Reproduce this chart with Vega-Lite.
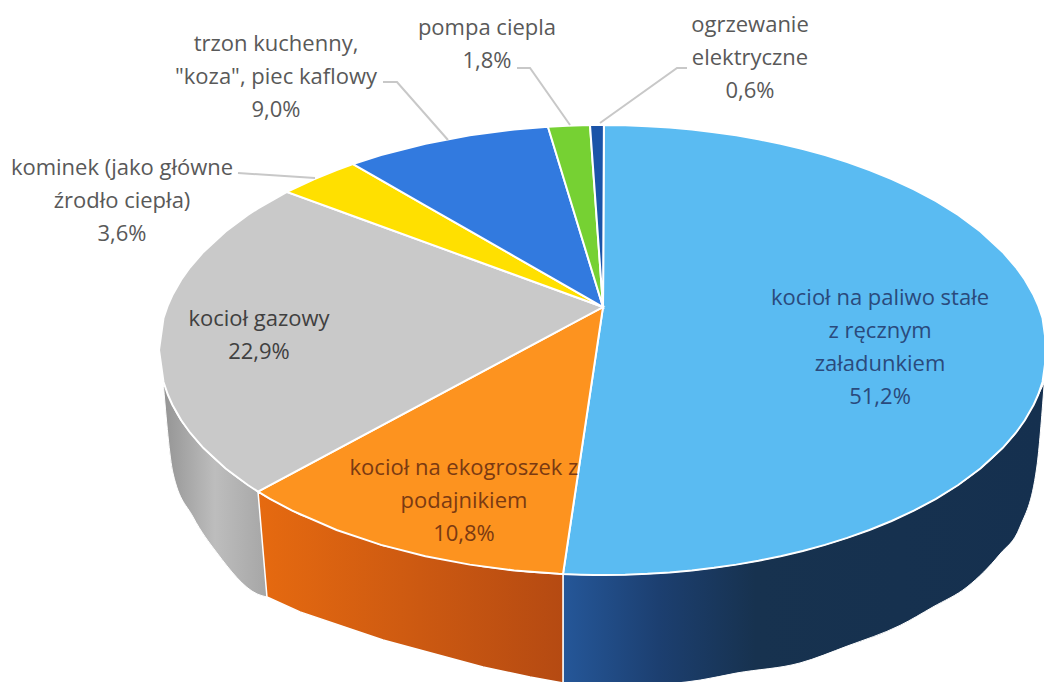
{"$schema":"https://vega.github.io/schema/vega-lite/v6.json","width":1044,"height":682,"padding":0,"autosize":"none","background":"white","view":{"stroke":null},
"datasets":{
"outline":[
{"part":"wall_gray","u":-0.991,"v":-0.134,"v2":-0.134},{"part":"wall_gray","u":-0.9685,"v":-0.249,"v2":-0.547},{"part":"wall_gray","u":-0.9234,"v":-0.3838,"v2":-0.742},{"part":"wall_gray","u":-0.8694,"v":-0.4941,"v2":-0.902},{"part":"wall_gray","u":-0.7793,"v":-0.6267,"v2":-1.084},{"part":"wall_gray","u":-0.7568,"v":-0.6537,"v2":-1.098},
{"part":"wall_blue","u":-0.0901,"v":-0.996,"v2":-1.48},{"part":"wall_blue","u":0,"v":-1,"v2":-1.493},{"part":"wall_blue","u":0.1,"v":-0.995,"v2":-1.489},{"part":"wall_blue","u":0.219,"v":-0.9757,"v2":-1.467},{"part":"wall_blue","u":0.3,"v":-0.9539,"v2":-1.436},{"part":"wall_blue","u":0.4437,"v":-0.896,"v2":-1.391},{"part":"wall_blue","u":0.55,"v":-0.8352,"v2":-1.316},{"part":"wall_blue","u":0.669,"v":-0.743,"v2":-1.224},{"part":"wall_blue","u":0.7432,"v":-0.669,"v2":-1.142},{"part":"wall_blue","u":0.82,"v":-0.5724,"v2":-1.053},{"part":"wall_blue","u":0.894,"v":-0.448,"v2":-0.907},{"part":"wall_blue","u":0.939,"v":-0.344,"v2":-0.787},{"part":"wall_blue","u":0.977,"v":-0.213,"v2":-0.52},{"part":"wall_blue","u":0.9932,"v":-0.147,"v2":-0.16},
{"part":"wall_orange","u":-0.777,"v":-0.6295,"v2":-0.6295},{"part":"wall_orange","u":-0.7568,"v":-0.6537,"v2":-1.098},{"part":"wall_orange","u":-0.6824,"v":-0.731,"v2":-1.164},{"part":"wall_orange","u":-0.4955,"v":-0.8686,"v2":-1.289},{"part":"wall_orange","u":-0.2703,"v":-0.9628,"v2":-1.409},{"part":"wall_orange","u":-0.1644,"v":-0.9864,"v2":-1.453},{"part":"wall_orange","u":-0.0901,"v":-0.996,"v2":-1.48},
{"part":"a","u":-0.0901,"v":-0.996,"v2":-0.996},{"part":"a","u":-0.05,"v":-0.4675,"v2":-0.99875},{"part":"a","u":-0.02,"v":-0.0724,"v2":-0.9998},{"part":"a","u":0,"v":0.191,"v2":-1},{"part":"a","u":0.002,"v":1,"v2":-1},{"part":"a","u":0.05,"v":0.99875,"v2":-0.99875},{"part":"a","u":0.1,"v":0.99499,"v2":-0.99499},{"part":"a","u":0.15,"v":0.9887,"v2":-0.9887},{"part":"a","u":0.2,"v":0.9798,"v2":-0.9798},{"part":"a","u":0.25,"v":0.9682,"v2":-0.9682},{"part":"a","u":0.3,"v":0.9539,"v2":-0.9539},{"part":"a","u":0.35,"v":0.9367,"v2":-0.9367},{"part":"a","u":0.4,"v":0.9165,"v2":-0.9165},{"part":"a","u":0.45,"v":0.893,"v2":-0.893},{"part":"a","u":0.5,"v":0.866,"v2":-0.866},{"part":"a","u":0.55,"v":0.8352,"v2":-0.8352},{"part":"a","u":0.6,"v":0.8,"v2":-0.8},{"part":"a","u":0.65,"v":0.7599,"v2":-0.7599},{"part":"a","u":0.7,"v":0.7141,"v2":-0.7141},{"part":"a","u":0.75,"v":0.6614,"v2":-0.6614},{"part":"a","u":0.8,"v":0.6,"v2":-0.6},{"part":"a","u":0.85,"v":0.5268,"v2":-0.5268},{"part":"a","u":0.9,"v":0.4359,"v2":-0.4359},{"part":"a","u":0.93,"v":0.3676,"v2":-0.3676},{"part":"a","u":0.95,"v":0.3122,"v2":-0.3122},{"part":"a","u":0.97,"v":0.2431,"v2":-0.2431},{"part":"a","u":0.98,"v":0.199,"v2":-0.199},{"part":"a","u":0.99,"v":0.1411,"v2":-0.1411},{"part":"a","u":1,"v":0,"v2":0},
{"part":"b","u":-0.777,"v":-0.6295,"v2":-0.6295},{"part":"b","u":-0.75,"v":-0.601,"v2":-0.6614},{"part":"b","u":-0.7,"v":-0.5482,"v2":-0.7141},{"part":"b","u":-0.6,"v":-0.4426,"v2":-0.8},{"part":"b","u":-0.5,"v":-0.337,"v2":-0.866},{"part":"b","u":-0.4,"v":-0.2314,"v2":-0.9165},{"part":"b","u":-0.3,"v":-0.1258,"v2":-0.9539},{"part":"b","u":-0.2,"v":-0.0202,"v2":-0.9798},{"part":"b","u":-0.1,"v":0.0854,"v2":-0.995},{"part":"b","u":-0.0901,"v":0.0959,"v2":-0.996},{"part":"b","u":-0.05,"v":0.1382,"v2":-0.4675},{"part":"b","u":0,"v":0.191,"v2":0.191},
{"part":"c","u":-1,"v":0,"v2":0},{"part":"c","u":-0.99,"v":0.1411,"v2":-0.1411},{"part":"c","u":-0.98,"v":0.199,"v2":-0.199},{"part":"c","u":-0.97,"v":0.2431,"v2":-0.2431},{"part":"c","u":-0.95,"v":0.3122,"v2":-0.3122},{"part":"c","u":-0.93,"v":0.3676,"v2":-0.3676},{"part":"c","u":-0.9,"v":0.4359,"v2":-0.4359},{"part":"c","u":-0.85,"v":0.5268,"v2":-0.5268},{"part":"c","u":-0.8,"v":0.6,"v2":-0.6},{"part":"c","u":-0.777,"v":0.6295,"v2":-0.6295},{"part":"c","u":-0.7117,"v":0.7025,"v2":-0.5606},{"part":"c","u":-0.4,"v":0.4785,"v2":-0.2314},{"part":"c","u":0,"v":0.191,"v2":0.191},
{"part":"d","u":-0.7117,"v":0.7025,"v2":0.7025},{"part":"d","u":-0.65,"v":0.7599,"v2":0.6582},{"part":"d","u":-0.6,"v":0.8,"v2":0.6222},{"part":"d","u":-0.5631,"v":0.8264,"v2":0.5957},{"part":"d","u":-0.3,"v":0.5293,"v2":0.4066},{"part":"d","u":0,"v":0.191,"v2":0.191},
{"part":"e","u":-0.5631,"v":0.8264,"v2":0.8264},{"part":"e","u":-0.5,"v":0.866,"v2":0.7549},{"part":"e","u":-0.4,"v":0.9165,"v2":0.6421},{"part":"e","u":-0.3,"v":0.9539,"v2":0.5293},{"part":"e","u":-0.2,"v":0.9798,"v2":0.4165},{"part":"e","u":-0.124,"v":0.9923,"v2":0.3308},{"part":"e","u":-0.06,"v":0.5786,"v2":0.2587},{"part":"e","u":0,"v":0.191,"v2":0.191},
{"part":"f","u":-0.124,"v":0.9923,"v2":0.9923},{"part":"f","u":-0.08,"v":0.9968,"v2":0.7078},{"part":"f","u":-0.0293,"v":0.9996,"v2":0.3803},{"part":"f","u":0,"v":0.191,"v2":0.191},
{"part":"g","u":-0.0293,"v":0.9996,"v2":0.9996},{"part":"g","u":0,"v":1,"v2":0.191},{"part":"g","u":0.002,"v":1,"v2":1}
],
"leaders":[
{"slice":"trzon","i":1,"u":-0.4955,"v":1.191},{"slice":"trzon","i":2,"u":-0.464,"v":1.191},{"slice":"trzon","i":3,"u":-0.3491,"v":0.9333},
{"slice":"kominek","i":1,"u":-0.8221,"v":0.7867},{"slice":"kominek","i":2,"u":-0.6486,"v":0.7644},
{"slice":"pompa","i":1,"u":-0.1937,"v":1.2533},{"slice":"pompa","i":2,"u":-0.1644,"v":1.2533},{"slice":"pompa","i":3,"u":-0.0743,"v":1.0},
{"slice":"ogrzewanie","i":1,"u":0.1892,"v":1.2533},{"slice":"ogrzewanie","i":2,"u":0.1667,"v":1.2533},{"slice":"ogrzewanie","i":3,"u":-0.0068,"v":1.0089}
],
"labels":[
{"label":"kocioł na paliwo stałe\nz ręcznym\nzaładunkiem\n51,2%","share":51.2,"tone":"blue","u":0.6239,"v":0.2311},
{"label":"kocioł na ekogroszek z\npodajnikiem\n10,8%","share":10.8,"tone":"orange","u":-0.3131,"v":-0.5244},
{"label":"kocioł gazowy\n22,9%","share":22.9,"tone":"gray","u":-0.7748,"v":0.1378},
{"label":"kominek (jako główne\nźrodło ciepła)\n3,6%","share":3.6,"tone":"out","u":-1.0833,"v":0.8089},
{"label":"trzon kuchenny,\n\"koza\", piec kaflowy\n9,0%","share":9.0,"tone":"out","u":-0.7365,"v":1.36},
{"label":"pompa ciepla\n1,8%","share":1.8,"tone":"out","u":-0.2613,"v":1.4311},
{"label":"ogrzewanie\nelektryczne\n0,6%","share":0.6,"tone":"out","u":0.3311,"v":1.4444}
]},
"encoding":{
"x":{"field":"u","type":"quantitative","axis":null,"scale":{"domain":[-1.3581,0.9932],"nice":false,"zero":false}},
"y":{"field":"v","type":"quantitative","axis":null,"stack":null,"scale":{"domain":[-1.4756,1.5556],"nice":false,"zero":false}}
},
"layer":[
{"data":{"name":"outline"},"transform":[{"filter":"datum.part==='wall_gray'"}],"mark":{"type":"area","clip":true,"interpolate":"monotone","stroke":"white","strokeWidth":1,"color":{"gradient":"linear","x1":0,"x2":1,"y1":0,"y2":0,"stops":[{"offset":0,"color":"#949494"},{"offset":0.5,"color":"#bdbdbd"},{"offset":1,"color":"#a6a6a6"}]}},"encoding":{"y2":{"field":"v2"}}},
{"data":{"name":"outline"},"transform":[{"filter":"datum.part==='wall_blue'"}],"mark":{"type":"area","clip":true,"interpolate":"monotone","stroke":"white","strokeWidth":1,"color":{"gradient":"linear","x1":0,"x2":1,"y1":0,"y2":0,"stops":[{"offset":0,"color":"#255799"},{"offset":0.2,"color":"#1c3f70"},{"offset":0.4,"color":"#17324f"},{"offset":1,"color":"#15304f"}]}},"encoding":{"y2":{"field":"v2"}}},
{"data":{"name":"outline"},"transform":[{"filter":"datum.part==='wall_orange'"}],"mark":{"type":"area","clip":true,"stroke":"white","strokeWidth":1.5,"color":{"gradient":"linear","x1":0,"x2":1,"y1":0,"y2":0,"stops":[{"offset":0,"color":"#e66a10"},{"offset":1,"color":"#b54a12"}]}},"encoding":{"y2":{"field":"v2"}}},
{"data":{"name":"outline"},"transform":[{"filter":"datum.part.length===1"}],"mark":{"type":"area","clip":true,"stroke":"white","strokeWidth":2},"encoding":{"y2":{"field":"v2"},"color":{"field":"part","type":"nominal","legend":null,"scale":{"domain":["a","b","c","d","e","f","g"],"range":["#5abbf2","#fd931f","#c9c9c9","#ffe000","#327adf","#76d133","#1b54a8"]}}}},
{"data":{"name":"leaders"},"mark":{"type":"line","color":"#c8c8c8","strokeWidth":2},"encoding":{"detail":{"field":"slice"},"order":{"field":"i"}}},
{"data":{"name":"labels"},"mark":{"type":"text","font":"Open Sans","fontSize":22,"lineBreak":"\n","lineHeight":33,"align":"center","baseline":"middle"},"encoding":{"text":{"field":"label"},"color":{"field":"tone","type":"nominal","legend":null,"scale":{"domain":["blue","orange","gray","out"],"range":["#2a4a7c","#7a3a12","#404040","#595959"]}}}}
],
"resolve":{"scale":{"color":"independent"}}
}
